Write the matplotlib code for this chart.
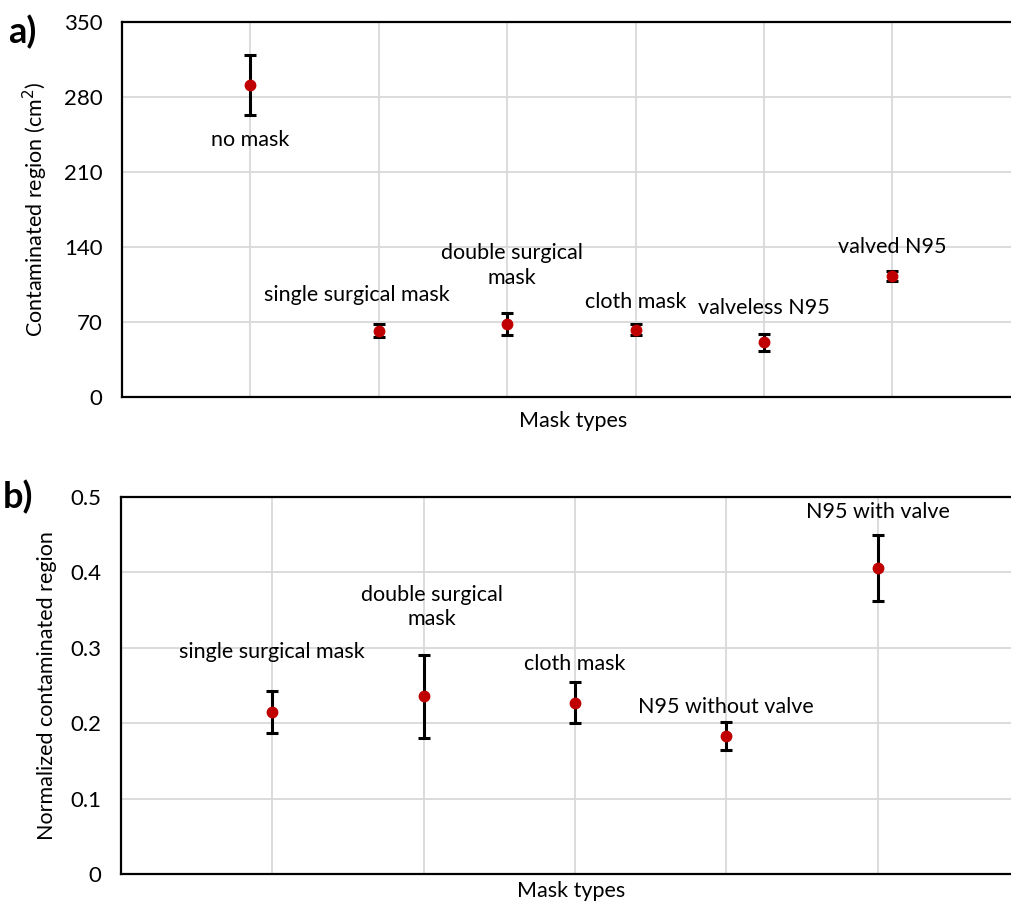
import matplotlib
matplotlib.use("Agg")
import matplotlib.pyplot as plt

plt.rcParams['font.family'] = ['Lato', 'DejaVu Sans']

# panel a data
labels_a = ['no mask', 'single surgical mask', 'double surgical\nmask', 'cloth mask',
            'valveless N95', 'valved N95']
area = [291, 62, 68, 63, 51, 113]
area_err = [28, 6, 10, 5.5, 8, 5]
yticks_a = [0, 70, 140, 210, 280, 350]

# panel b data
labels_b = ['single surgical mask', 'double surgical\nmask', 'cloth mask',
            'N95 without valve', 'N95 with valve']
norm = [0.215, 0.236, 0.227, 0.183, 0.406]
norm_err = [0.028, 0.055, 0.027, 0.018, 0.044]
yticks_b = [0, 0.1, 0.2, 0.3, 0.4, 0.5]

# label offsets in pixels (dx, dy) relative to each point
offs_a = [(0, -55), (-22, 36), (5, 59), (0, 28), (0, 34), (0, 29)]
offs_b = [(0, 60), (8, 89), (0, 39), (0, 29), (0, 56)]

fs = 15.5
red = '#c00000'
grid_c = '#d9d9d9'

fig = plt.figure(figsize=(10.11, 9.06), dpi=100)
# plot areas run off the right edge of the picture (cropped in the original)
ax1 = fig.add_axes([122 / 1011, 1 - 397 / 906, 889 / 1011, 375 / 906])
ax2 = fig.add_axes([121 / 1011, 1 - 874 / 906, 890 / 1011, 377 / 906])


def draw(ax, labels, vals, errs, offs, yticks, ylabel, ylabfmt, xmax):
    x = list(range(1, len(vals) + 1))
    ax.errorbar(x, vals, yerr=errs, fmt='o', color=red, markersize=7.5,
                ecolor='black', elinewidth=2.2, capsize=4, capthick=2.2, zorder=3)
    for xi, v, lab, (dx, dy) in zip(x, vals, labels, offs):
        ax.annotate(lab, (xi, v), xytext=(dx * 0.72, dy * 0.72), textcoords='offset points',
                    ha='center', va='center', fontsize=fs, linespacing=1.3)
    ax.set_xlim(0, xmax)
    ax.set_ylim(yticks[0], yticks[-1])
    ax.set_xticks(x)
    ax.set_xticklabels([])
    ax.set_yticks(yticks)
    ax.set_yticklabels([ylabfmt(t) for t in yticks], fontsize=16)
    ax.tick_params(length=0, pad=14)
    ax.grid(True, color=grid_c, lw=1.3)
    ax.set_axisbelow(True)
    for s in ax.spines.values():
        s.set_color('black')
        s.set_linewidth(1.6)
    ax.spines['right'].set_visible(False)
    ax.set_xlabel('Mask types', fontsize=fs, labelpad=8)
    ax.set_ylabel(ylabel, fontsize=fs, labelpad=10)


draw(ax1, labels_a, area, area_err, offs_a, yticks_a,
     'Contaminated region (cm$^2$)', lambda t: str(int(t)), 889 / 128.4)
draw(ax2, labels_b, norm, norm_err, offs_b, yticks_b,
     'Normalized contaminated region', lambda t: '0' if t == 0 else f'{t:.1f}', 890 / 151.3)
ax1.xaxis.set_label_coords(451 / 889, -0.038)
ax2.xaxis.set_label_coords(450 / 890, -0.018)

fig.text(8 / 1011, 1 - 32 / 906, 'a)', fontsize=26, fontweight='bold', va='center')
fig.text(3 / 1011, 1 - 497 / 906, 'b)', fontsize=26, fontweight='bold', va='center')

fig.savefig('out.png', dpi=100)
